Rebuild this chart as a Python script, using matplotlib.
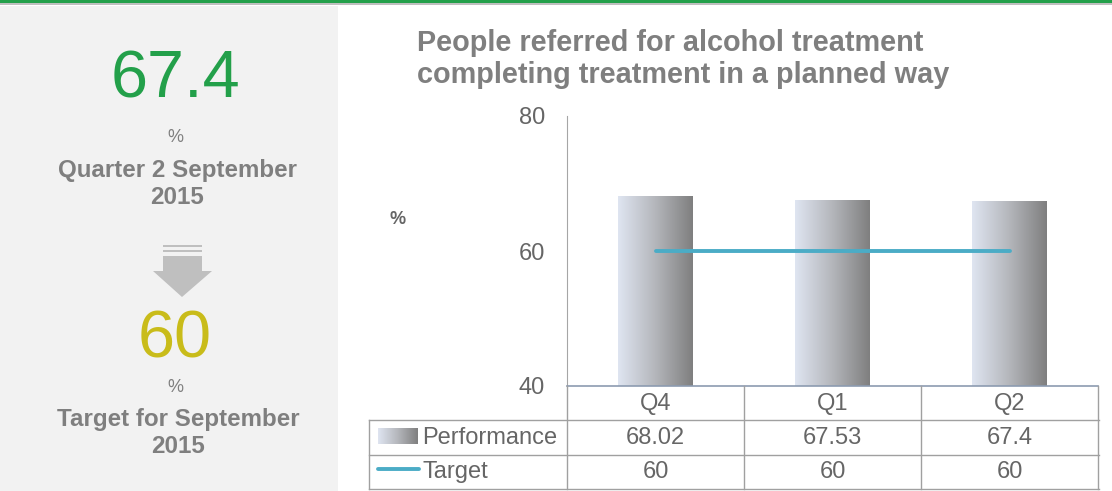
import numpy as np
import matplotlib.pyplot as plt
from matplotlib.colors import LinearSegmentedColormap
from matplotlib.patches import Rectangle, Polygon
from matplotlib.lines import Line2D
import matplotlib.transforms as mtransforms

plt.rcParams['font.family'] = ['Liberation Sans', 'DejaVu Sans']

quarters = ['Q4', 'Q1', 'Q2']
performance = [68.02, 67.53, 67.4]
target = [60, 60, 60]
perf_labels = ['68.02', '67.53', '67.4']
target_labels = ['60', '60', '60']
latest_value = '67.4'
target_value = '60'

W, H = 1112, 491
fig = plt.figure(figsize=(W / 100, H / 100), dpi=100)


def fx(x):
    return x / W


def fy(y):
    return 1 - y / H


# header rules and the grey side panel
fig.add_artist(Rectangle((0, fy(491)), fx(338), fy(6) - fy(491),
                         transform=fig.transFigure, color='#f2f2f2', lw=0))
fig.add_artist(Rectangle((0, fy(3)), 1, fy(0) - fy(3),
                         transform=fig.transFigure, color='#23a04a', lw=0))
fig.add_artist(Rectangle((0, fy(5)), 1, fy(3) - fy(5),
                         transform=fig.transFigure, color='#bfbfbf', lw=0))

grey = '#7f7f7f'
fig.text(fx(175), fy(80), latest_value, color='#23a04a', fontsize=48,
         ha='center', va='center')
fig.text(fx(175), fy(137), '%', color=grey, fontsize=13, ha='center', va='center')
fig.text(fx(177), fy(184), 'Quarter 2 September\n2015', color=grey, fontsize=17.4,
         fontweight='bold', ha='center', va='center', linespacing=1.2)

# down arrow
arrow = [(163, 256), (202, 256), (202, 271), (212, 271), (182, 297),
         (153, 271), (163, 271)]
fig.add_artist(Polygon([(fx(x), fy(y)) for x, y in arrow], closed=True,
                       transform=fig.transFigure, color='#bfbfbf', lw=0))
for y0 in (245, 249.5):
    fig.add_artist(Rectangle((fx(163), fy(y0 + 2.5)), fx(39), fy(y0) - fy(y0 + 2.5),
                             transform=fig.transFigure, color='#bfbfbf', lw=0))

fig.text(fx(175), fy(340), target_value, color='#c9bc1a', fontsize=48,
         ha='center', va='center')
fig.text(fx(175), fy(388), '%', color=grey, fontsize=13, ha='center', va='center')
fig.text(fx(178), fy(433), 'Target for September\n2015', color=grey, fontsize=17.4,
         fontweight='bold', ha='center', va='center', linespacing=1.2)

fig.text(fx(417), fy(59), 'People referred for alcohol treatment\ncompleting treatment in a planned way',
         color=grey, fontsize=20.8, fontweight='bold', ha='left', va='center',
         linespacing=1.15)

# chart area
ax = fig.add_axes([fx(567), fy(386), fx(1098) - fx(567), fy(116) - fy(386)])
ax.set_xlim(-0.5, 2.5)
ax.set_ylim(40, 80)
ax.set_yticks([40, 60, 80])
ax.tick_params(axis='y', length=0, pad=16, labelsize=17, labelcolor='#666666')
ax.set_xticks([])
for s in ('top', 'right'):
    ax.spines[s].set_visible(False)
ax.spines['left'].set_color('#a6a6a6')
ax.spines['bottom'].set_color('#8c9bb0')
ax.spines['bottom'].set_linewidth(1.2)
ax.set_facecolor('none')
fig.text(fx(398), fy(220), '%', color='#666666', fontsize=13, fontweight='bold',
         ha='center', va='center')

cmap = LinearSegmentedColormap.from_list('bar', ['#dfe5f1', '#b4b6bb', '#7f7f7f'])
grad = np.linspace(0, 1, 256).reshape(1, -1)
bw = 0.42
for i, v in enumerate(performance):
    ax.imshow(grad, cmap=cmap, aspect='auto', extent=[i - bw / 2, i + bw / 2, 40, v],
              zorder=2)
ax.set_xlim(-0.5, 2.5)
ax.set_ylim(40, 80)
ax.plot(range(len(target)), target, color='#4bacc6', lw=2.8, solid_capstyle='round',
        zorder=3)

# data table under the chart
tx = mtransforms.blended_transform_factory(ax.transData, fig.transFigure)
line_c = '#a0a0a0'
for y in (420, 455, 489):
    fig.add_artist(Line2D([fx(369), fx(1099)], [fy(y), fy(y)], transform=fig.transFigure,
                          color=line_c, lw=1))
fig.add_artist(Line2D([fx(369), fx(369)], [fy(420), fy(489)], transform=fig.transFigure,
                      color=line_c, lw=1))
for xb in (-0.5, 0.5, 1.5, 2.5):
    fig.add_artist(Line2D([xb, xb], [fy(386), fy(489)], transform=tx, color=line_c, lw=1))

txt_c = '#666666'
fs = 17
for i, q in enumerate(quarters):
    fig.text(i, fy(404), q, transform=tx, ha='center', va='center', fontsize=fs, color=txt_c)
    fig.text(i, fy(438), perf_labels[i], transform=tx, ha='center', va='center',
             fontsize=fs, color=txt_c)
    fig.text(i, fy(472), target_labels[i], transform=tx, ha='center', va='center',
             fontsize=fs, color=txt_c)

fig.text(fx(422), fy(438), 'Performance', ha='left', va='center', fontsize=fs, color=txt_c)
fig.text(fx(422), fy(472), 'Target', ha='left', va='center', fontsize=fs, color=txt_c)

# legend keys inside the table
key_ax = fig.add_axes([fx(378), fy(444), fx(40), fy(428) - fy(444)])
key_ax.imshow(grad, cmap=cmap, aspect='auto')
key_ax.axis('off')
fig.add_artist(Line2D([fx(378), fx(419)], [fy(469), fy(469)], transform=fig.transFigure,
                      color='#4bacc6', lw=2.8, solid_capstyle='round'))

fig.savefig('out.png', dpi=100)
